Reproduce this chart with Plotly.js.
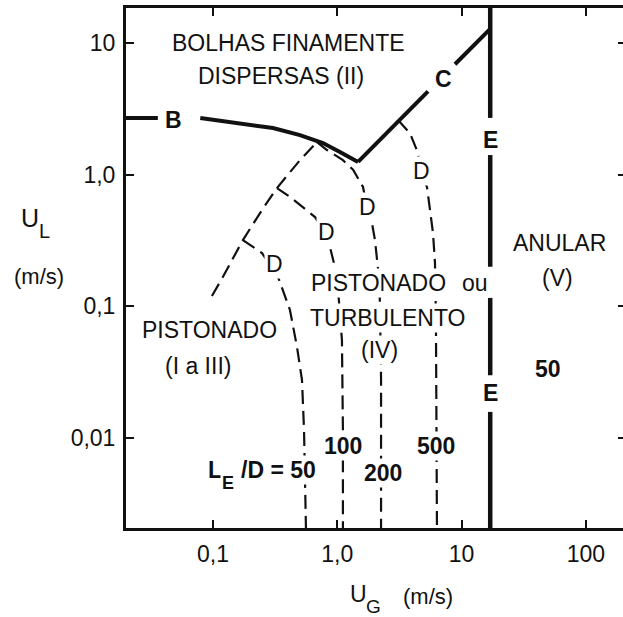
<!DOCTYPE html>
<html><head><meta charset="utf-8">
<script src="https://cdn.plot.ly/plotly-3.0.1.min.js"></script>
<style>html,body{margin:0;padding:0;overflow:hidden;background:#fff}</style>
</head><body><div id="chart"></div>
<script>
// ---- tick labels ----
const xTickVals = [0.1, 1, 10, 100];
const xTickText = ['0,1', '1,0', '10', '100'];
const yTickVals = [0.01, 0.1, 1, 10];
const yTickText = ['0,01', '0,1', '1,0', '10'];

// ---- boundary B (bubble / dispersed) ----
const bX = [0.015, 0.036, null, 0.079, 0.165, 0.304, 0.501, 0.767, 1.05, 1.47];
const bY = [2.7, 2.7, null, 2.7, 2.47, 2.26, 2.0, 1.74, 1.49, 1.25];
// ---- boundary C ----
const cX = [1.47, 5.37, null, 8.85, 17];
const cY = [1.25, 4.3, null, 6.9, 12.8];
// ---- boundary E (annular) ----
const eX = [17, 17, null, 17, 17, null, 17, 17, null, 17, 17];
const eY = [20, 2.7, null, 1.41, 0.2, null, 0.116, 0.030, null, 0.0158, 0.002];
// ---- dashed envelope ----
const diagX = [0.098, 0.120, 0.174, 0.248, 0.327, 0.501, 0.687];
const diagY = [0.120, 0.167, 0.319, 0.540, 0.792, 1.29, 1.77];
// ---- D curves, L_E/D = 50, 100, 200, 500 ----
const d50X = [0.174, 0.248, 0.334, 0.416, 0.474, 0.520, 0.540, 0.560];
const d50Y = [0.319, 0.254, 0.167, 0.094, 0.0492, 0.0276, 0.0115, 0.002];
const d100X = [0.327, 0.416, 0.501, 0.662, 0.797, 0.873, 0.957, 1.03, 1.09, 1.11, 1.11];
const d100Y = [0.792, 0.678, 0.589, 0.477, 0.367, 0.282, 0.199, 0.112, 0.0556, 0.0115, 0.002];
const d200X = [0.687, 0.826, 1.11, 1.34, 1.61, 1.73, 1.90, 2.01, 2.12, 2.20, 2.25, 2.25];
const d200Y = [1.77, 1.54, 1.29, 1.09, 0.807, 0.569, 0.430, 0.319, 0.199, 0.112, 0.0276, 0.002];
const d500X = [3.08, 3.84, 4.46, 4.63, 5.27, 5.57, 5.89, 6.11, 6.22, 6.34];
const d500Y = [2.60, 2.07, 1.46, 1.09, 0.807, 0.540, 0.361, 0.214, 0.0789, 0.002];

const W = 636, H = 617, ML = 126, MR = 10, MT = 8, MB = 89;
const PW = W - ML - MR, PH = H - MT - MB;
const FONT = 'Liberation Sans, Arial, sans-serif';
const INK = '#111';

const solid = (x, y, w) => ({x, y, type: 'scatter', mode: 'lines', connectgaps: false,
  line: {color: INK, width: w}, hoverinfo: 'skip', showlegend: false});
const dashed = (x, y) => ({x, y, type: 'scatter', mode: 'lines',
  line: {color: INK, width: 2.2, dash: '14px,7px'}, hoverinfo: 'skip', showlegend: false});

const traces = [
  dashed(diagX, diagY), dashed(d50X, d50Y), dashed(d100X, d100Y),
  dashed(d200X, d200Y), dashed(d500X, d500Y),
  solid(bX, bY, 4), solid(cX, cY, 4), solid(eX, eY, 4.5)
];

function ann(text, px, py, opt) {
  opt = opt || {};
  return {
    text: text, xref: 'paper', yref: 'paper',
    x: (px - ML) / PW, y: (MT + PH - py) / PH,
    xanchor: 'center', yanchor: 'middle', showarrow: false,
    font: {family: FONT, size: opt.size || 23, color: INK},
    bgcolor: opt.bg ? '#fff' : 'rgba(0,0,0,0)', borderpad: 1
  };
}
const B = t => '<b>' + t + '</b>';

const annotations = [
  ann('BOLHAS FINAMENTE', 288, 43),
  ann('DISPERSAS (II)', 281, 76),
  ann(B('B'), 173, 120),
  ann(B('C'), 443, 79),
  ann(B('E'), 490, 140),
  ann(B('E'), 490, 393),
  ann('D', 274, 264, {bg: true}),
  ann('D', 326, 232, {bg: true}),
  ann('D', 367, 207, {bg: true}),
  ann('D', 421, 171, {bg: true}),
  ann('PISTONADO', 378, 283, {bg: true}),
  ann('ou', 475, 283, {bg: true}),
  ann('TURBULENTO', 388, 318, {bg: true}),
  ann('(IV)', 379, 350, {bg: true}),
  ann('ANULAR', 559, 243),
  ann('(V)', 557, 278),
  ann(B('50'), 548, 369),
  ann('PISTONADO', 209, 330, {bg: true}),
  ann('(I a III)', 198, 366),
  ann(B('L'), 215, 470, {bg: true}),
  ann(B('E'), 228, 483, {bg: true, size: 18}),
  ann(B('/D = 50'), 278, 470, {bg: true}),
  ann(B('100'), 343, 446, {bg: true}),
  ann(B('200'), 383, 473, {bg: true}),
  ann(B('500'), 436, 446, {bg: true}),
  ann('U', 30, 218, {size: 25}),
  ann('L', 44, 231, {size: 20}),
  ann('(m/s)', 39, 277, {size: 22}),
  ann('U', 358, 594, {size: 23}),
  ann('G', 373, 606, {size: 19}),
  ann('(m/s)', 428, 596, {size: 22})
];

const axisCommon = {
  type: 'log', showgrid: false, zeroline: false,
  showline: true, linecolor: INK, linewidth: 3, mirror: 'ticks',
  ticks: 'inside', ticklen: 8, tickwidth: 2, tickcolor: INK,
  tickfont: {family: FONT, size: 23, color: INK}, ticklabelstandoff: 3
};

const layout = {
  width: W, height: H,
  margin: {l: ML, r: MR, t: MT, b: MB, pad: 0},
  paper_bgcolor: '#fff', plot_bgcolor: '#fff',
  showlegend: false,
  xaxis: Object.assign({}, axisCommon, {
    range: [-1.70, 2.323], tickmode: 'array', tickvals: xTickVals, ticktext: xTickText
  }),
  yaxis: Object.assign({}, axisCommon, {
    range: [-2.683, 1.266], tickmode: 'array', tickvals: yTickVals, ticktext: yTickText
  }),
  annotations: annotations
};

Plotly.newPlot('chart', traces, layout, {staticPlot: true, displayModeBar: false});
</script>
</body></html>
